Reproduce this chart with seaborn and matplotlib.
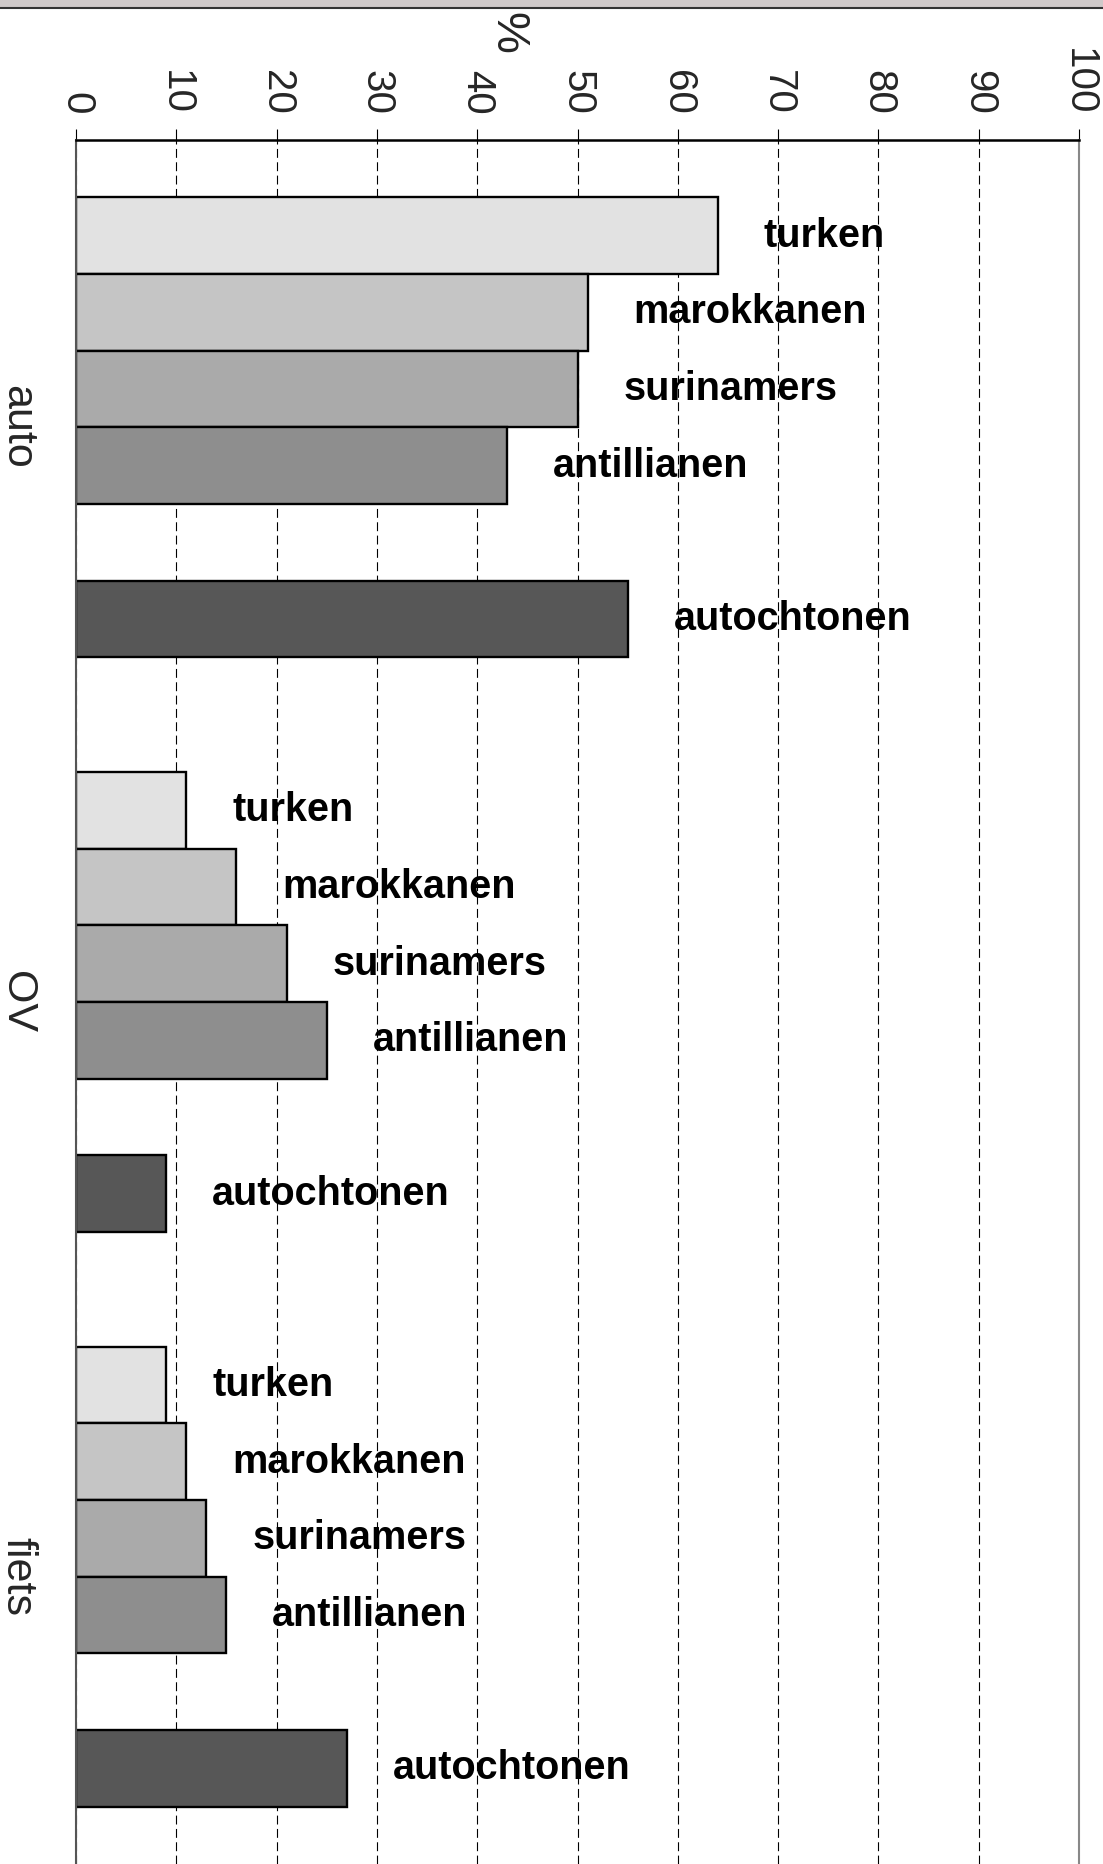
import numpy as np
import pandas as pd
import matplotlib.pyplot as plt
import seaborn as sns
from matplotlib.patches import Rectangle
from matplotlib.ticker import FixedLocator

herkomst = ['turken', 'marokkanen', 'surinamers', 'antillianen', 'autochtonen']
modes = ['auto', 'OV', 'fiets']
auto = [64, 51, 50, 43, 55]
ov = [11, 16, 21, 25, 9]
fiets = [9, 11, 13, 15, 27]
kleuren = ['#e2e2e2', '#c5c5c5', '#aaaaaa', '#8e8e8e', '#575757']
xticks = [0, 10, 20, 30, 40, 50, 60, 70, 80, 90, 100]

# slot layout inside a group: four bars, one empty slot, autochtonen
slots = [0, 1, 2, 3, 5]
group_w = 7.5

rows = []
for g, (mode, vals) in enumerate(zip(modes, [auto, ov, fiets])):
    for h, s, v in zip(herkomst, slots, vals):
        rows.append({'mode': mode, 'herkomst': h, 'pos': g * group_w + 1.25 + s, 'pct': v})
df = pd.DataFrame(rows)

sns.set_style('white')
plt.rcParams['font.family'] = ['Liberation Sans', 'DejaVu Sans']

fig = plt.figure(figsize=(11.03, 18.64), dpi=100)
ax = fig.add_axes([76 / 1103, 0.0, (1079 - 76) / 1103, 1 - 140 / 1864])

sns.barplot(data=df, x='pct', y='pos', hue='herkomst', hue_order=herkomst,
            palette=kleuren, orient='h', native_scale=True, dodge=False,
            width=1.0, edgecolor='black', linewidth=1.7, errorbar=None,
            legend=False, ax=ax)

for cont, h in zip(ax.containers, herkomst):
    ax.bar_label(cont, labels=[h] * len(cont), padding=33, fontsize=28.5,
                 fontweight='bold', color='black')

ax.set_xlim(0, 100)
ax.set_ylim(len(modes) * group_w, 0)
ax.set_axisbelow(True)
ax.grid(axis='x', color='black', linewidth=0.8, linestyle=(0, (8, 4)))
ax.grid(axis='y', visible=False)

ax.xaxis.tick_top()
ax.set_xticks(xticks)
ax.set_xticklabels([str(t) for t in xticks], rotation=270, fontsize=29)
ax.tick_params(axis='x', direction='out', length=8, width=0.8, pad=10, color='black')
ax.set_xlabel('%', rotation=270, fontsize=34, va='center')
ax.xaxis.set_label_position('top')
ax.xaxis.set_label_coords(0.43, 1.056)

centers = [g * group_w + group_w / 2 for g in range(len(modes))]
ax.set_yticks(centers)
ax.set_yticklabels(modes, rotation=270, fontsize=31, va='center')
ax.tick_params(axis='y', which='major', length=0, pad=28)
ax.yaxis.set_minor_locator(FixedLocator([g * group_w for g in range(len(modes) + 1)]))
ax.tick_params(axis='y', which='minor', direction='out', length=8, width=1.2, color='#555555')
ax.set_ylabel('')

ax.spines['top'].set_color('black')
ax.spines['top'].set_linewidth(1.8)
ax.spines['left'].set_color('#555555')
ax.spines['left'].set_linewidth(1.5)
ax.spines['right'].set_color('#888888')
ax.spines['right'].set_linewidth(1.5)
ax.spines['bottom'].set_visible(False)

# screenshot band at the very top
fig.patches.append(Rectangle((0, 1 - 7 / 1864), 1, 7 / 1864, transform=fig.transFigure,
                             facecolor='#cfc9c9', edgecolor='none'))
fig.add_artist(plt.Line2D([0, 1], [1 - 8 / 1864] * 2, transform=fig.transFigure,
                          color='#333333', linewidth=1.5))

fig.savefig('out.png', dpi=100)
